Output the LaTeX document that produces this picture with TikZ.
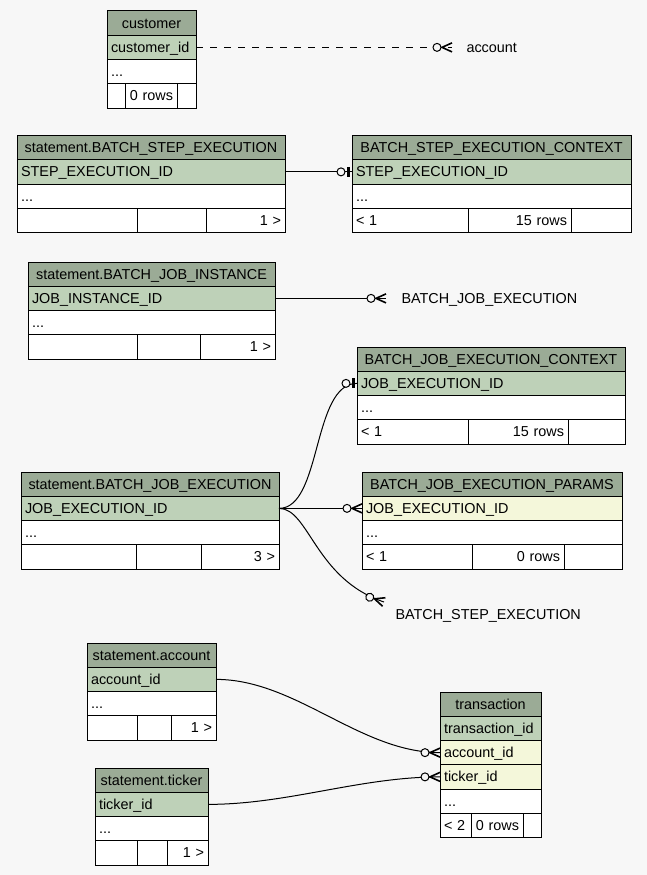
\documentclass[tikz,border=0pt]{standalone}
\usepackage{fontspec}
\setmainfont{Liberation Sans}
\usepackage{tikz}
\usetikzlibrary{arrows.meta}
\usetikzlibrary{positioning}
\definecolor{bgcol}{HTML}{F7F7F7}
\definecolor{headgreen}{HTML}{9BAB96}
\definecolor{keygreen}{HTML}{BED1B8}
\definecolor{fkyellow}{HTML}{F4F7DA}
% zero-or-many end
\pgfdeclarearrow{
  name = crowo,
  setup code = {
    \pgfarrowssettipend{0pt}
    \pgfarrowssetlineend{0pt}
    \pgfarrowssetbackend{-19.5pt}
    \pgfarrowssetvisualbackend{-19.5pt}
    \pgfarrowshullpoint{0pt}{4.5pt}
    \pgfarrowshullpoint{0pt}{-4.5pt}
    \pgfarrowshullpoint{-19.5pt}{4pt}
    \pgfarrowshullpoint{-19.5pt}{-4pt}
  },
  drawing code = {
    \pgfsetdash{}{0pt}
    \pgfsetlinewidth{1.6pt}
    \pgfpathmoveto{\pgfpoint{0pt}{4.5pt}}
    \pgfpathlineto{\pgfpoint{-10pt}{0pt}}
    \pgfpathlineto{\pgfpoint{0pt}{-4.5pt}}
    \pgfusepathqstroke
    \pgfsetlinewidth{1pt}
    \pgfpathcircle{\pgfpoint{-15pt}{0pt}}{4pt}
    \pgfsetfillcolor{bgcol}
    \pgfusepathqfillstroke
  }
}
% zero-or-one end
\pgfdeclarearrow{
  name = oneo,
  setup code = {
    \pgfarrowssettipend{0pt}
    \pgfarrowssetlineend{0pt}
    \pgfarrowssetbackend{-15pt}
    \pgfarrowssetvisualbackend{-15pt}
    \pgfarrowshullpoint{0pt}{5pt}
    \pgfarrowshullpoint{0pt}{-5pt}
    \pgfarrowshullpoint{-15pt}{4pt}
    \pgfarrowshullpoint{-15pt}{-4pt}
  },
  drawing code = {
    \pgfsetdash{}{0pt}
    \pgfpathcircle{\pgfpoint{-11pt}{0pt}}{4pt}
    \pgfsetfillcolor{bgcol}
    \pgfusepathqfillstroke
    \pgfsetlinewidth{2.5pt}
    \pgfpathmoveto{\pgfpoint{-3.5pt}{5pt}}
    \pgfpathlineto{\pgfpoint{-3.5pt}{-5pt}}
    \pgfusepathqstroke
  }
}
\tikzset{auto, node distance=0pt, font=\fontsize{14.4}{17}\selectfont}
\tikzstyle{header} = [draw, fill=headgreen, rectangle, minimum height=24.25, inner xsep=4, inner ysep=0, outer sep=0, text height=11, text depth=1, align=center]
\tikzstyle{pkey} = [header, fill=keygreen, align=left]
\tikzstyle{fkey} = [header, fill=fkyellow, align=left]
\tikzstyle{field} = [header, fill=white, align=left]
\tikzstyle{lcell} = [header, fill=white, align=left]
\tikzstyle{rcell} = [header, fill=white, align=right]
\tikzstyle{ecell} = [draw, fill=white, rectangle, minimum height=24.25, inner sep=0, outer sep=0]
\tikzstyle{ref} = [inner sep=0, text height=11, text depth=1, anchor=west]
\tikzstyle{tomany} = [-{crowo}]
\tikzstyle{toone} = [-{oneo}]

\begin{document}
\begin{tikzpicture}[x=1pt, y=-1pt, line width=1pt]
    \fill [bgcol] (0,0) rectangle (647,875);

    % customer
    \node [header, text width=81, anchor=north west] (cust) at (107,11) {customer};
    \node [pkey, text width=81, below=0 of cust] (cust_id) {customer\_id};
    \node [field, text width=81, below=0 of cust_id] (cust_more) {...};
    \node [ecell, minimum width=18, below right=0 and 0 of cust_more.south west] (cust_l) {};
    \node [rcell, text width=44, right=0 of cust_l] (cust_n) {0 rows};
    \node [ecell, minimum width=19, right=0 of cust_n] (cust_r) {};

    % statement.BATCH_STEP_EXECUTION
    \node [header, text width=260, anchor=north west] (sbse) at (17,135.5) {statement.BATCH\_STEP\_EXECUTION};
    \node [pkey, text width=260, below=0 of sbse] (sbse_id) {STEP\_EXECUTION\_ID};
    \node [field, text width=260, below=0 of sbse_id] (sbse_more) {...};
    \node [ecell, minimum width=120, below right=0 and 0 of sbse_more.south west] (sbse_l) {};
    \node [ecell, minimum width=69, right=0 of sbse_l] (sbse_n) {};
    \node [rcell, text width=71, right=0 of sbse_n] (sbse_r) {1 >};

    % BATCH_STEP_EXECUTION_CONTEXT
    \node [header, text width=271, anchor=north west] (bsec) at (352,135.5) {BATCH\_STEP\_EXECUTION\_CONTEXT};
    \node [pkey, text width=271, below=0 of bsec] (bsec_id) {STEP\_EXECUTION\_ID};
    \node [field, text width=271, below=0 of bsec_id] (bsec_more) {...};
    \node [lcell, text width=108, below right=0 and 0 of bsec_more.south west] (bsec_l) {< 1};
    \node [rcell, text width=95, right=0 of bsec_l] (bsec_n) {15 rows};
    \node [ecell, minimum width=60, right=0 of bsec_n] (bsec_r) {};

    % statement.BATCH_JOB_INSTANCE
    \node [header, text width=239, anchor=north west] (sbji) at (28,262) {statement.BATCH\_JOB\_INSTANCE};
    \node [pkey, text width=239, below=0 of sbji] (sbji_id) {JOB\_INSTANCE\_ID};
    \node [field, text width=239, below=0 of sbji_id] (sbji_more) {...};
    \node [ecell, minimum width=109, below right=0 and 0 of sbji_more.south west] (sbji_l) {};
    \node [ecell, minimum width=63, right=0 of sbji_l] (sbji_n) {};
    \node [rcell, text width=67, right=0 of sbji_n] (sbji_r) {1 >};

    % BATCH_JOB_EXECUTION_CONTEXT
    \node [header, text width=260, anchor=north west] (bjec) at (357,347) {BATCH\_JOB\_EXECUTION\_CONTEXT};
    \node [pkey, text width=260, below=0 of bjec] (bjec_id) {JOB\_EXECUTION\_ID};
    \node [field, text width=260, below=0 of bjec_id] (bjec_more) {...};
    \node [lcell, text width=103, below right=0 and 0 of bjec_more.south west] (bjec_l) {< 1};
    \node [rcell, text width=92, right=0 of bjec_l] (bjec_n) {15 rows};
    \node [ecell, minimum width=57, right=0 of bjec_n] (bjec_r) {};

    % statement.BATCH_JOB_EXECUTION
    \node [header, text width=250, anchor=north west] (sbje) at (21,472) {statement.BATCH\_JOB\_EXECUTION};
    \node [pkey, text width=250, below=0 of sbje] (sbje_id) {JOB\_EXECUTION\_ID};
    \node [field, text width=250, below=0 of sbje_id] (sbje_more) {...};
    \node [ecell, minimum width=115, below right=0 and 0 of sbje_more.south west] (sbje_l) {};
    \node [ecell, minimum width=65, right=0 of sbje_l] (sbje_n) {};
    \node [rcell, text width=70, right=0 of sbje_n] (sbje_r) {3 >};

    % BATCH_JOB_EXECUTION_PARAMS
    \node [header, text width=252, anchor=north west] (bjep) at (362,472) {BATCH\_JOB\_EXECUTION\_PARAMS};
    \node [fkey, text width=252, below=0 of bjep] (bjep_id) {JOB\_EXECUTION\_ID};
    \node [field, text width=252, below=0 of bjep_id] (bjep_more) {...};
    \node [lcell, text width=102, below right=0 and 0 of bjep_more.south west] (bjep_l) {< 1};
    \node [rcell, text width=84, right=0 of bjep_l] (bjep_n) {0 rows};
    \node [ecell, minimum width=58, right=0 of bjep_n] (bjep_r) {};

    % statement.account
    \node [header, text width=121, anchor=north west] (sacc) at (87,643) {statement.account};
    \node [pkey, text width=121, below=0 of sacc] (sacc_id) {account\_id};
    \node [field, text width=121, below=0 of sacc_id] (sacc_more) {...};
    \node [ecell, minimum width=50, below right=0 and 0 of sacc_more.south west] (sacc_l) {};
    \node [ecell, minimum width=34, right=0 of sacc_l] (sacc_n) {};
    \node [rcell, text width=37, right=0 of sacc_n] (sacc_r) {1 >};

    % statement.ticker
    \node [header, text width=105, anchor=north west] (stick) at (95,768) {statement.ticker};
    \node [pkey, text width=105, below=0 of stick] (stick_id) {ticker\_id};
    \node [field, text width=105, below=0 of stick_id] (stick_more) {...};
    \node [ecell, minimum width=42, below right=0 and 0 of stick_more.south west] (stick_l) {};
    \node [ecell, minimum width=30, right=0 of stick_l] (stick_n) {};
    \node [rcell, text width=33, right=0 of stick_n] (stick_r) {1 >};

    % transaction
    \node [header, text width=93, anchor=north west] (trans) at (440,692) {transaction};
    \node [pkey, text width=93, below=0 of trans] (trans_id) {transaction\_id};
    \node [fkey, text width=93, below=0 of trans_id] (trans_acc) {account\_id};
    \node [fkey, text width=93, below=0 of trans_acc] (trans_tick) {ticker\_id};
    \node [field, text width=93, below=0 of trans_tick] (trans_more) {...};
    \node [lcell, text width=23, below right=0 and 0 of trans_more.south west] (trans_l) {< 2};
    \node [rcell, text width=44, right=0 of trans_l] (trans_n) {0 rows};
    \node [ecell, minimum width=18, right=0 of trans_n] (trans_r) {};

    % tables outside the picture
    \node [ref] (acc) at ([xshift=270] cust_id.east) {account};
    \node [ref] (bje) at ([xshift=126] sbji_id.east) {BATCH\_JOB\_EXECUTION};
    \node [ref] (bse) at (395,614) {BATCH\_STEP\_EXECUTION};
    \coordinate (acc_end) at ([xshift=-14] acc.west);
    \coordinate (bje_end) at ([xshift=-15] bje.west);
    \coordinate (bse_end) at ([xshift=-11, yshift=12] bse.west);

    \draw [tomany, dash pattern=on 7pt off 7pt] (cust_id.east) -- (acc_end);
    \draw [toone] (sbse_id.east) -- (bsec_id.west);
    \draw [tomany] (sbji_id.east) -- (bje_end);
    \draw [toone] (sbje_id.east) .. controls +(43,0) and +(-45,0) .. (bjec_id.west);
    \draw [tomany] (sbje_id.east) -- (bjep_id.west);
    \draw [tomany] (sbje_id.east) .. controls +(30,0) and +(-69,-23) .. (bse_end);
    \draw [tomany] (sacc_id.east) .. controls +(80,0) and +(-80,0) .. (trans_acc.west);
    \draw [tomany] (stick_id.east) .. controls +(80,0) and +(-80,0) .. (trans_tick.west);
\end{tikzpicture}
\end{document}
